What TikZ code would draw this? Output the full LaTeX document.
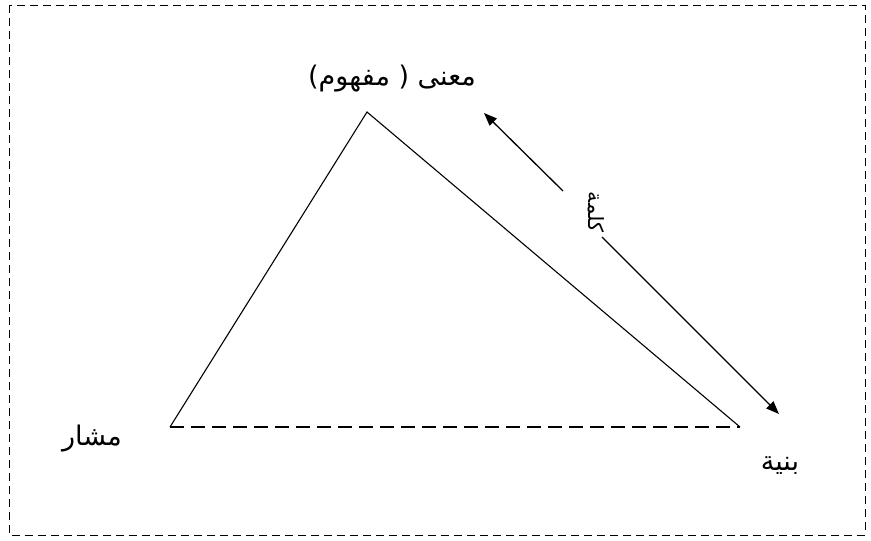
\documentclass[tikz,border=0pt]{standalone}
\usepackage{fontspec}
\usetikzlibrary{arrows.meta}
\TeXXeTstate=1
\newfontfamily\arabicfont[Script=Arabic]{DejaVu Sans}
\begin{document}
\begin{tikzpicture}[x=1pt,y=-1pt,
  lbl/.style={font=\arabicfont\fontsize{27}{32}\selectfont, inner sep=0pt},
  arr/.style={line width=1.3pt,-{Triangle[length=13pt,width=10pt]}},
  side/.style={line width=1.1pt},
  frame/.style={line width=1pt, dash pattern=on 8pt off 5pt}]
\useasboundingbox (0,0) rectangle (871,541);
\draw[frame] (9,5) rectangle (865,535);
\coordinate (A) at (367,112);
\coordinate (L) at (170,427);
\coordinate (R) at (740,427);
\draw[side] (L) -- (A) -- (R);
\draw[side, dash pattern=on 14pt off 7pt] (L) -- (R);
\node[lbl] (top) at (392,79) {\beginR معنى ( مفهوم)\endR};
\node[lbl] (left) at (92,439) {\beginR مشار\endR};
\node[lbl] (right) at (780,466) {\beginR بنية\endR};
\node[lbl, font=\arabicfont\fontsize{21}{25}\selectfont, rotate=-90] (word) at (596,212) {\beginR كلمة\endR};
\coordinate (a1s) at (563,191); \coordinate (a1e) at (484,113);
\coordinate (a2s) at (602,237); \coordinate (a2e) at (779,414);
\draw[arr] (a1s) -- (a1e);
\draw[arr] (a2s) -- (a2e);
\end{tikzpicture}
\end{document}
